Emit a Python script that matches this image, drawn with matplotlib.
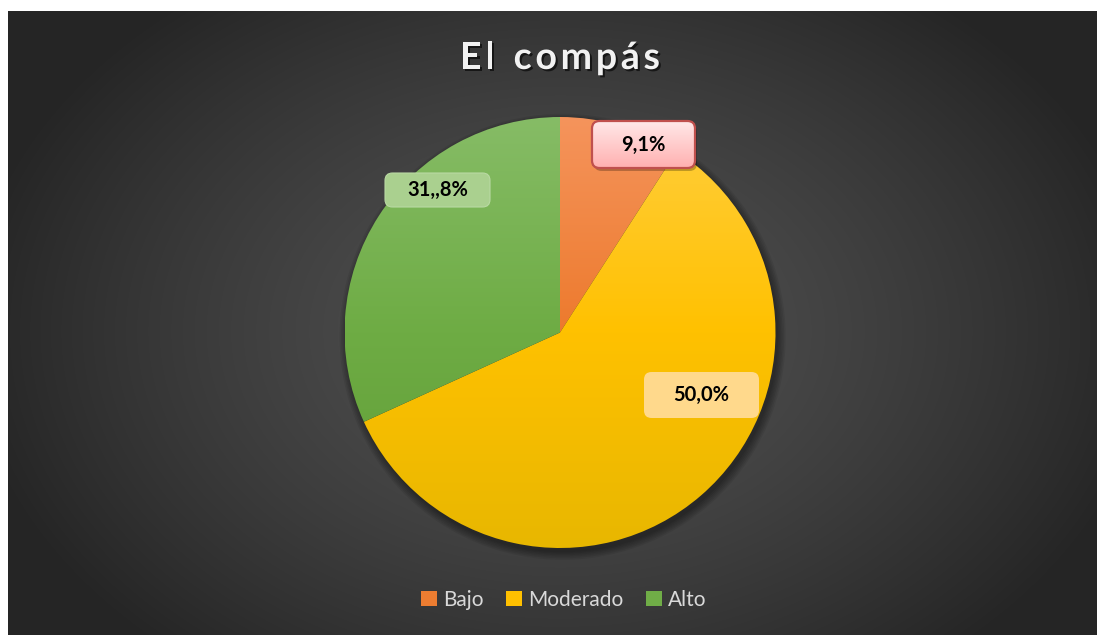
import numpy as np
import matplotlib
matplotlib.use('Agg')
import matplotlib.pyplot as plt
import matplotlib.patheffects as pe
from matplotlib.patches import Patch, FancyBboxPatch, Circle

# data
categories = ['Bajo', 'Moderado', 'Alto']
shares = [9.1, 59.1, 31.8]           # slice sizes as drawn
label_texts = ['9,1%', '50,0%', '31,,8%']   # labels as printed on the chart
title = 'El compás'

# slice colours: top / middle / bottom of the vertical gradient
tops = [(245, 148, 92), (255, 206, 62), (134, 188, 102)]
mids = [(237, 122, 45), (255, 193, 0), (110, 172, 68)]
bottoms = [(222, 104, 28), (232, 183, 0), (96, 156, 54)]
legend_cols = ['#ED7D31', '#FFC000', '#70AD47']

plt.rcParams['font.family'] = ['Lato', 'DejaVu Sans']

W, H = 1097, 635
fig = plt.figure(figsize=(W / 100, H / 100), dpi=100)
fig.patch.set_facecolor('white')

# dark panel with radial gradient
bg = fig.add_axes([8 / W, 0, (W - 8) / W, (H - 11) / H])
yy, xx = np.mgrid[0:624, 0:1089]
r = np.sqrt(((xx - 552) / 600.0) ** 2 + ((yy - 320) / 430.0) ** 2)
r = np.clip(r, 0, 1)
v = (81 - 44 * r ** 1.4) / 255.0
bg.imshow(np.dstack([v, v, v]), aspect='auto', extent=(0, 1, 0, 1), origin='upper')
bg.set_axis_off()

# pie axes: centre (560, 332.5), radius 215.5 px, with a margin of 1.1
cx, cy, rad = 560, 332.5, 215.5
m = 1.1
ax = fig.add_axes([(cx - m * rad) / W, (H - cy - m * rad) / H, 2 * m * rad / W, 2 * m * rad / H])
ax.set_axis_off()

for k in range(6):
    ax.add_patch(Circle((0.012, -0.02), 1.0 + k * 0.007, facecolor='black',
                        edgecolor='none', alpha=0.07, zorder=0))

wedges, _ = ax.pie(shares, startangle=90, counterclock=False, radius=1,
                   wedgeprops=dict(linewidth=0, edgecolor='none'))
f = np.linspace(0, 1, 256)
for w, t, mi, b in zip(wedges, tops, mids, bottoms):
    grad = np.stack([np.interp(f, [0, 0.5, 1], [t[i], mi[i], b[i]]) for i in range(3)],
                    axis=1) / 255.0
    w.set_facecolor('none')
    im = ax.imshow(grad[:, None, :], extent=(-1, 1, -1, 1), aspect='auto',
                   origin='upper', zorder=2)
    im.set_clip_path(w)
ax.set_xlim(-m, m)
ax.set_ylim(-m, m)
ax.set_aspect('auto')


def px(x, y):
    return (x - cx) / rad, (cy - y) / rad


def box(x0, y0, x1, y1, fc, ec, lw, text, grad=None, z=5):
    (a, b2), (c, d) = px(x0, y1), px(x1, y0)
    p = FancyBboxPatch((a, b2), c - a, d - b2,
                       boxstyle='round,pad=0,rounding_size=0.035',
                       facecolor=fc, edgecolor=ec, linewidth=lw, zorder=z)
    ax.add_patch(p)
    if grad is not None:
        p.set_facecolor('none')
        g = np.linspace(0, 1, 64)[:, None]
        g = (np.array(grad[0])[None, :] * (1 - g) + np.array(grad[1])[None, :] * g) / 255.0
        im = ax.imshow(g[:, None, :], extent=(a, c, b2, d), aspect='auto',
                       origin='upper', zorder=z - 0.1)
        im.set_clip_path(p)
    ax.text((a + c) / 2, (b2 + d) / 2, text, ha='center', va='center',
            fontsize=14.5, fontweight='bold', color='black', zorder=z + 1)


# shadow for the pink label
ax.add_patch(FancyBboxPatch(px(594, 171), 103 / rad, 47 / rad,
                            boxstyle='round,pad=0,rounding_size=0.035',
                            facecolor='black', edgecolor='none', alpha=0.25, zorder=4))
box(592, 121, 695, 168, '#FFCCCC', '#C0504D', 1.6, label_texts[0],
    grad=((255, 232, 232), (255, 176, 176)))
box(644, 372, 759, 418, '#FFD98C', 'none', 0, label_texts[1])
box(385, 173, 490, 207, '#AAD08F', '#B9D9A3', 0.8, label_texts[2])

# title with letter spacing, drawn char by char
renderer = fig.canvas.get_renderer()
tkw = dict(fontsize=27, fontweight='bold', color='#F2F2F2', va='center', ha='left',
           path_effects=[pe.withSimplePatchShadow(offset=(1.5, -1.5),
                                                  shadow_rgbFace='black', alpha=0.6)])
spacing = 3.7
widths = []
for ch in title:
    tt = fig.text(0, 0, ch if ch != ' ' else 'n', **tkw)
    wpx = tt.get_window_extent(renderer).width
    tt.remove()
    widths.append(wpx * (0.55 if ch == ' ' else 1.0))
total = sum(widths) + spacing * (len(title) - 1)
xpos = cx - total / 2
for ch, wpx in zip(title, widths):
    if ch != ' ':
        fig.text(xpos / W, 1 - 58 / H, ch, **tkw)
    xpos += wpx + spacing

handles = [Patch(facecolor=c, edgecolor='none') for c in legend_cols]
leg = fig.legend(handles, categories, loc='center', bbox_to_anchor=(564 / W, 1 - 600 / H),
                 ncol=3, frameon=False, fontsize=15, handlelength=0.75, handleheight=0.75,
                 handletextpad=0.3, columnspacing=1.1)
for t in leg.get_texts():
    t.set_color('#D9D9D9')

fig.savefig('out.png', dpi=100, facecolor=fig.get_facecolor())
